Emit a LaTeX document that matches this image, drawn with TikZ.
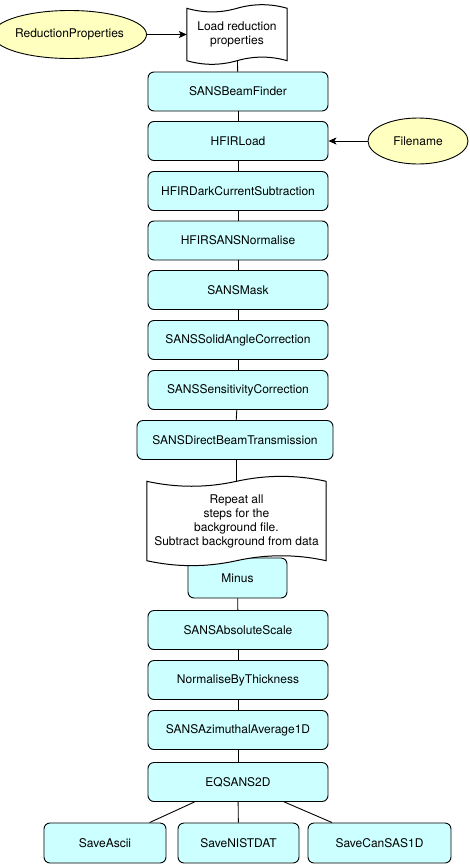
\documentclass[tikz,border=0pt]{standalone}
\usepackage{fontspec}
\setmainfont{TeX Gyre Heros}
\usetikzlibrary{arrows.meta,calc,shapes.geometric}
\definecolor{boxfill}{HTML}{CCFFFF}
\definecolor{ellfill}{HTML}{FFFFC0}
\tikzset{
  basefont/.style={font=\fontsize{12}{14}\selectfont},
  stepbox/.style={draw=black, fill=boxfill, rounded corners=6pt, minimum width=180pt,
    minimum height=39pt, inner sep=0pt, line width=0.9pt, basefont},
  ellnode/.style={ellipse, draw=black, fill=ellfill, inner sep=0pt, line width=0.9pt, basefont},
  docarea/.style={inner sep=0pt, draw=none},
  doctext/.style={align=center, inner sep=0pt, basefont},
  link/.style={draw=black, line width=0.9pt},
  feed/.style={link, -{Stealth[length=8pt,width=7pt,inset=2pt]}},
  tapeline/.style={draw=black, fill=white, line width=1pt},
  tapeshadow/.style={fill=black, fill opacity=0.3, draw=none}
}
\newcommand\tapepath[3]{%
  \path[#3] let \p1=(#1.north west), \p2=(#1.south east),
    \n1={(\x2-\x1)/6}, \n2={(\x1+\x2)/2} in
    (\x1,\y1-#2/2)
    .. controls (\x1+\n1,\y1-1.1*#2) and (\n2-\n1,\y1-1.1*#2) .. (\n2,\y1-#2/2)
    .. controls (\n2+\n1,\y1+0.1*#2) and (\x2-\n1,\y1+0.1*#2) .. (\x2,\y1-#2/2)
    -- (\x2,\y2+#2/2)
    .. controls (\x2-\n1,\y2+1.1*#2) and (\n2+\n1,\y2+1.1*#2) .. (\n2,\y2+#2/2)
    .. controls (\n2-\n1,\y2-0.1*#2) and (\x1+\n1,\y2-0.1*#2) .. (\x1,\y2+#2/2)
    -- cycle;}
\begin{document}
\begin{tikzpicture}[x=1pt,y=-1pt]
\useasboundingbox (0,0) rectangle (470,868);
% ellipses
\node[ellnode, minimum width=135pt, minimum height=48pt] (rp) at (69.5,34.5) {ReductionProperties};
\node[ellnode, minimum width=100pt, minimum height=46pt] (fn) at (418,141) {Filename};
% doc areas
\node[docarea, minimum width=100pt, minimum height=60pt] (load) at (237,34.5) {};
% step boxes
\node[stepbox] (bf) at (238,91.5) {SANSBeamFinder};
\node[stepbox] (hl) at (238,141) {HFIRLoad};
\node[stepbox] (dc) at (238,191) {HFIRDarkCurrentSubtraction};
\node[stepbox] (nm) at (238,240.5) {HFIRSANSNormalise};
\node[stepbox] (mask) at (238,290) {SANSMask};
\node[stepbox] (sac) at (238,340) {SANSSolidAngleCorrection};
\node[stepbox] (sens) at (238,390) {SANSSensitivityCorrection};
\node[stepbox, minimum width=196pt] (dbt) at (235,440) {SANSDirectBeamTransmission};
\node[docarea, minimum width=179pt, minimum height=90pt] (rep) at (236.5,521) {};
\node[stepbox, minimum width=99pt, minimum height=40pt] (minus) at (237.5,578) {Minus};
\node[stepbox] (abs) at (238,630) {SANSAbsoluteScale};
\node[stepbox] (nbt) at (238,680) {NormaliseByThickness};
\node[stepbox] (az) at (238,730) {SANSAzimuthalAverage1D};
\node[stepbox] (eq) at (238,782) {EQSANS2D};
\node[stepbox, minimum width=122pt, minimum height=40pt] (sa1) at (105,843) {SaveAscii};
\node[stepbox, minimum width=121pt, minimum height=40pt] (nist) at (238.5,843) {SaveNISTDAT};
\node[stepbox, minimum width=143pt, minimum height=40pt] (can) at (379.5,843) {SaveCanSAS1D};
% connectors
\draw[link] (load.center) -- (bf);
\draw[link] (bf) -- (hl);
\draw[link] (hl) -- (dc);
\draw[link] (dc) -- (nm);
\draw[link] (nm) -- (mask);
\draw[link] (mask) -- (sac);
\draw[link] (sac) -- (sens);
\draw[link] (sens) -- (dbt);
\draw[link] (dbt.south -| rep.center) -- (rep.center);
\draw[link] (minus) -- (abs);
\draw[link] (abs) -- (nbt);
\draw[link] (nbt) -- (az);
\draw[link] (az) -- (eq);
\draw[link] (eq) -- (sa1);
\draw[link] (eq) -- (nist);
\draw[link] (eq) -- (can);
% tapes
\begin{scope}[xshift=1.5pt,yshift=-1.5pt]
\tapepath{load}{8pt}{tapeshadow}
\tapepath{rep}{11pt}{tapeshadow}
\end{scope}
\tapepath{load}{8pt}{tapeline}
\tapepath{rep}{11pt}{tapeline}
\node[doctext] (loadtext) at (load) {Load reduction\\properties};
\node[doctext] (reptext) at (rep) {Repeat all\\steps for the\\background file.\\Subtract background from data};
% arrows
\draw[feed] (rp) -- (load.west);
\draw[feed] (fn) -- (hl);
\end{tikzpicture}
\end{document}
